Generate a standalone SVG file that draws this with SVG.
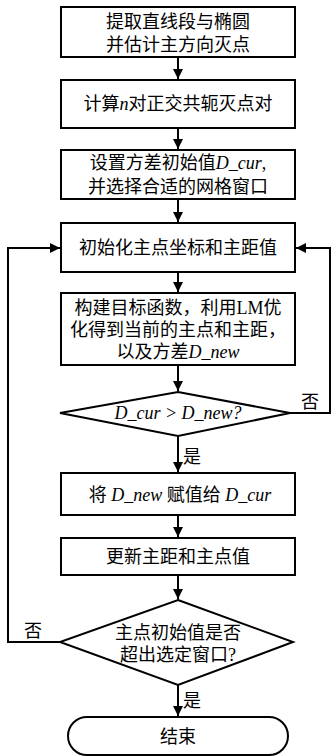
<svg xmlns="http://www.w3.org/2000/svg" width="332" height="756" viewBox="0 0 332 756">
<style>
.b{fill:#fff;stroke:#000;stroke-width:2}
.t{font-family:"Liberation Serif","Noto Sans CJK SC",serif;font-size:18px;fill:#000;text-anchor:middle;dominant-baseline:central}
.i{font-style:italic}
.c{fill:none;stroke:#000;stroke-width:2}
</style>
<defs>
<marker id="a" viewBox="0 0 10 10" refX="10" refY="5" markerWidth="5" markerHeight="5" orient="auto" markerUnits="strokeWidth">
<path d="M0,0 L10,5 L0,10 z" fill="#000"/>
</marker>
</defs>
<rect width="332" height="756" fill="#fff"/>
<g id="connectors">
<line class="c" x1="178" y1="57" x2="178" y2="79" marker-end="url(#a)"/>
<line class="c" x1="178" y1="128" x2="178" y2="149" marker-end="url(#a)"/>
<line class="c" x1="178" y1="199" x2="178" y2="222" marker-end="url(#a)"/>
<line class="c" x1="178" y1="272" x2="178" y2="292" marker-end="url(#a)"/>
<line class="c" x1="178" y1="365" x2="178" y2="391" marker-end="url(#a)"/>
<line class="c" x1="178" y1="436" x2="178" y2="472" marker-end="url(#a)"/>
<line class="c" x1="178" y1="515" x2="178" y2="537" marker-end="url(#a)"/>
<line class="c" x1="178" y1="575" x2="178" y2="599" marker-end="url(#a)"/>
<line class="c" x1="178" y1="685" x2="178" y2="716" marker-end="url(#a)"/>
<polyline class="c" points="290,413 330,413 330,248 296,248" marker-end="url(#a)"/>
<polyline class="c" points="60,642 8,642 8,248 60,248" marker-end="url(#a)"/>
<text class="t" x="310" y="402">否</text>
<text class="t" x="33" y="631">否</text>
<text class="t" x="192" y="457">是</text>
<text class="t" x="192" y="701">是</text>
</g>
<g id="n1">
<rect class="b" x="61" y="7" width="234" height="50"/>
<text class="t" x="178" y="22">提取直线段与椭圆</text>
<text class="t" x="178" y="45">并估计主方向灭点</text>
</g>
<g id="n2">
<rect class="b" x="61" y="80" width="234" height="48"/>
<text class="t" x="178" y="104">计算<tspan class="i">n</tspan>对正交共轭灭点对</text>
</g>
<g id="n3">
<rect class="b" x="61" y="150" width="234" height="49"/>
<text class="t" x="178" y="163">设置方差初始值<tspan class="i">D_cur</tspan>,</text>
<text class="t" x="178" y="187">并选择合适的网格窗口</text>
</g>
<g id="n4">
<rect class="b" x="61" y="223" width="234" height="49"/>
<text class="t" x="178" y="248">初始化主点坐标和主距值</text>
</g>
<g id="n5">
<rect class="b" x="61" y="293" width="234" height="72"/>
<text class="t" x="178" y="308">构建目标函数，利用LM优</text>
<text class="t" x="178" y="330">化得到当前的主点和主距，</text>
<text class="t" x="178" y="352">以及方差<tspan class="i">D_new</tspan></text>
</g>
<g id="n6">
<polygon class="b" points="178,392 290,413 178,436 60,413"/>
<text class="t i" x="178" y="413">D_cur &gt; D_new?</text>
</g>
<g id="n7">
<rect class="b" x="61" y="473" width="234" height="42"/>
<text class="t" x="180" y="495">将 <tspan class="i">D_new</tspan> 赋值给 <tspan class="i">D_cur</tspan></text>
</g>
<g id="n8">
<rect class="b" x="61" y="538" width="234" height="37"/>
<text class="t" x="178" y="557">更新主距和主点值</text>
</g>
<g id="n9">
<polygon class="b" points="178,600 293,642 178,685 60,642"/>
<text class="t" x="178" y="633">主点初始值是否</text>
<text class="t" x="178" y="655">超出选定窗口?</text>
</g>
<g id="n10">
<rect class="b" x="68" y="717" width="220" height="38" rx="19"/>
<text class="t" x="178" y="737">结束</text>
</g>
</svg>
